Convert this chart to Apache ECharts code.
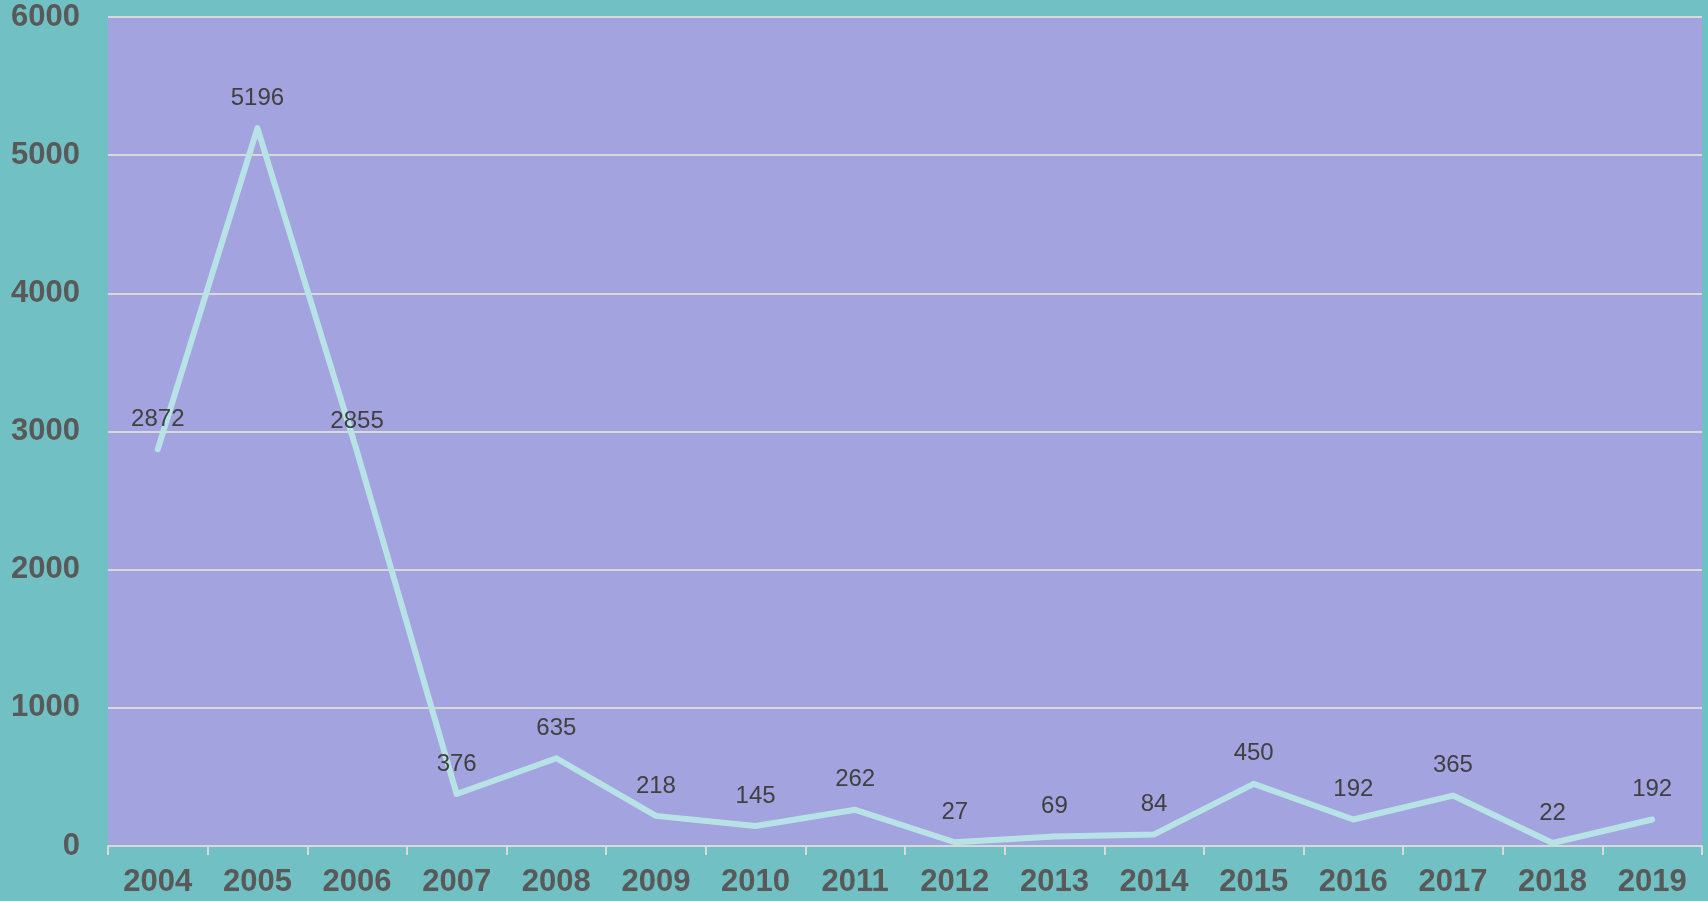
<!DOCTYPE html>
<html>
<head>
<meta charset="utf-8">
<script src="https://cdn.jsdelivr.net/npm/echarts@6/dist/echarts.min.js"></script>
<style>
  html, body { margin: 0; padding: 0; background: #71c0c4; }
  #chart { width: 1708px; height: 901px; }
</style>
</head>
<body>
<div id="chart"></div>
<script>
const years = ["2004", "2005", "2006", "2007", "2008", "2009", "2010", "2011",
               "2012", "2013", "2014", "2015", "2016", "2017", "2018", "2019"];
const counts = [2872, 5196, 2855, 376, 635, 218, 145, 262,
                27, 69, 84, 450, 192, 365, 22, 192];

const chart = echarts.init(document.getElementById("chart"));

chart.setOption({
    backgroundColor: "#71c0c4",
    animation: false,
    grid: {
        left: 108,
        right: 6,
        top: 17,
        bottom: 55,
        show: true,
        backgroundColor: "#a3a3df",
        borderWidth: 0,
    },
    xAxis: {
        type: "category",
        data: years,
        boundaryGap: true,
        axisLine: {
            lineStyle: { color: "#d9d9d9", width: 2 },
        },
        axisTick: {
            show: true,
            length: 9,
            lineStyle: { color: "#d9d9d9", width: 2 },
        },
        axisLabel: {
            color: "#595959",
            fontFamily: "Liberation Sans, Arial, sans-serif",
            fontWeight: "bold",
            fontSize: 31,
            margin: 21,
        },
    },
    yAxis: {
        type: "value",
        min: 0,
        max: 6000,
        interval: 1000,
        axisLine: { show: false },
        axisTick: { show: false },
        axisLabel: {
            color: "#595959",
            fontFamily: "Liberation Sans, Arial, sans-serif",
            fontWeight: "bold",
            fontSize: 31,
            margin: 28,
            formatter: (v) => String(v),
        },
        splitLine: {
            lineStyle: { color: "#d9d9d9", width: 2 },
        },
    },
    series: [
        {
            type: "line",
            data: counts,
            symbol: "circle",
            symbolSize: 0,
            showSymbol: true,
            lineStyle: {
                color: "#b8e3e6",
                width: 6,
                cap: "round",
                join: "round",
            },
            itemStyle: { color: "#b8e3e6" },
            label: {
                show: true,
                position: "top",
                distance: 18,
                color: "#404040",
                fontFamily: "Liberation Sans, Arial, sans-serif",
                fontSize: 24,
            },
        },
    ],
});
</script>
</body>
</html>
